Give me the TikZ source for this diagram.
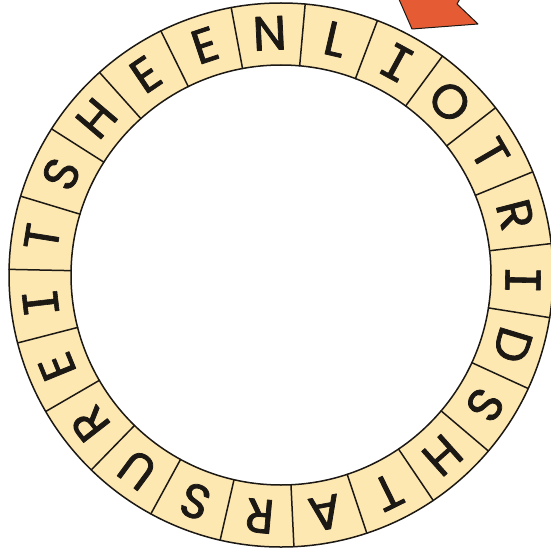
\documentclass[tikz,border=0pt]{standalone}
\usepackage{fontspec}
\newfontfamily\ringfont{Poppins}[FakeBold=1.6]
\newfontfamily\barfont{DejaVu Sans Mono}[FakeBold=1.2]
\newcommand\barI{{\barfont I}}
\definecolor{ringfill}{RGB}{253,232,178}
\definecolor{tagorange}{RGB}{229,92,52}
\definecolor{inkline}{RGB}{28,24,20}

\begin{document}
\begin{tikzpicture}[x=1pt, y=-1pt, line width=1.5pt, line cap=round, line join=round,
  letter/.style={inner sep=0pt, text=inkline, font=\ringfont\fontsize{48}{50}\selectfont}]

  %% ==== orange tag, top right ====
  \filldraw[fill=tagorange, draw=inkline, line width=1pt] (398,-3) -- (412,29) -- (478,24) -- (457,4) -- (461,-3) -- cycle;

  %% ==== ring: 23 cells around (281,275) ====
  \begin{scope}[shift={(281,275)}]
    \fill[ringfill, even odd rule] (0,0) circle (272) (0,0) circle (210);
    \draw[inkline] (0,0) circle (272);
    \draw[inkline] (0,0) circle (210);

    %% dividers -- y is flipped, so the angle is negated
    \foreach \k in {0,...,22}
      \draw[inkline] ({-(84.9+\k*15.652)}:210) -- ({-(84.9+\k*15.652)}:272);

    %% letters, clockwise from the top
    \foreach \l [count=\i from 0] in {N,L,\barI,O,T,R,\barI,D,S,H,T,A,R,S,U,R,E,\barI,T,S,H,E,E}
      \node[letter, rotate={2.7-\i*15.652}] (cell\i) at ({-(92.7-\i*15.652)}:242) {\l};
  \end{scope}

  % fix the canvas to the reference size
  \pgfresetboundingbox
  \path[use as bounding box] (0,0) rectangle (550,556);
\end{tikzpicture}
\end{document}
